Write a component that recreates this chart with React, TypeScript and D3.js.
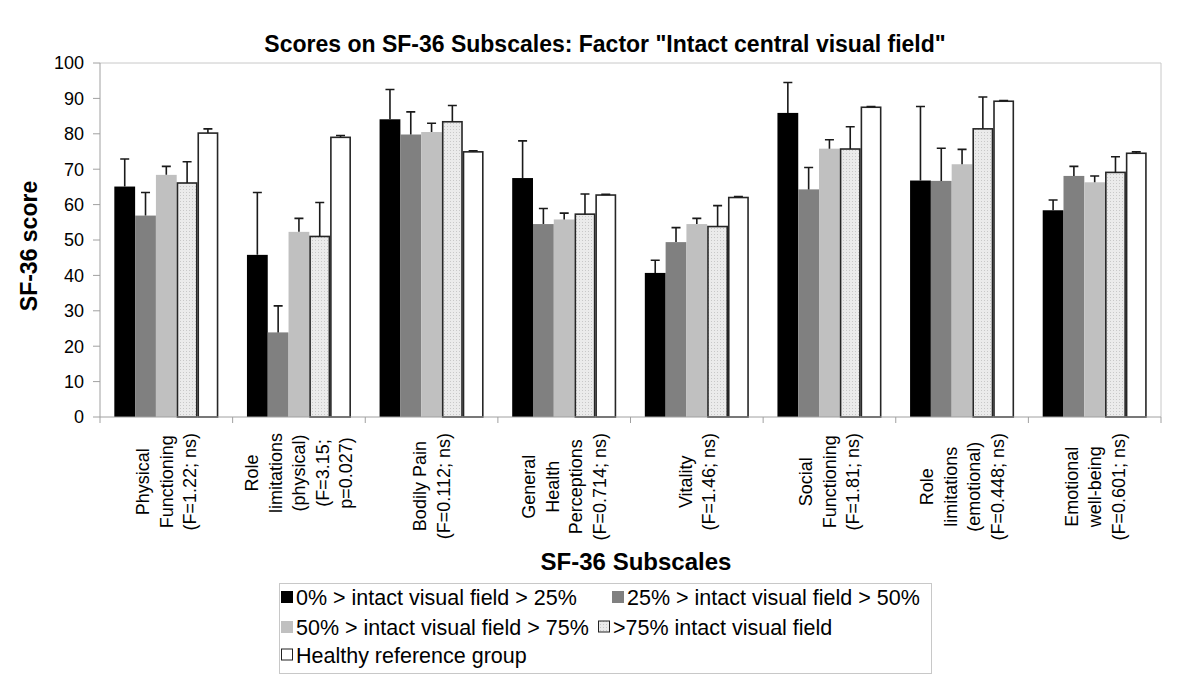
import React, { useEffect, useRef } from "react";
import * as d3 from "d3";

const categories: string[][] = [
  ["Physical", "Functioning", "(F=1.22; ns)"],
  ["Role", "limitations", "(physical)", "(F=3.15;", "p=0.027)"],
  ["Bodily Pain", "(F=0.112; ns)"],
  ["General", "Health", "Perceptions", "(F=0.714; ns)"],
  ["Vitality", "(F=1.46; ns)"],
  ["Social", "Functioning", "(F=1.81; ns)"],
  ["Role", "limitations", "(emotional)", "(F=0.448; ns)"],
  ["Emotional", "well-being", "(F=0.601; ns)"],
];

const seriesNames = [
  "0% > intact visual field > 25%",
  "25% > intact visual field > 50%",
  "50% > intact visual field > 75%",
  ">75% intact visual field",
  "Healthy reference group",
];

const means0 = [65.1, 45.8, 84.1, 67.5, 40.7, 85.9, 66.8, 58.4];
const means1 = [56.9, 23.9, 79.8, 54.5, 49.4, 64.3, 66.7, 68.1];
const means2 = [68.4, 52.3, 80.5, 55.8, 54.5, 75.8, 71.4, 66.3];
const means3 = [66.1, 51.0, 83.4, 57.3, 53.8, 75.7, 81.4, 69.1];
const means4 = [80.2, 79.0, 74.9, 62.7, 62.0, 87.5, 89.2, 74.5];

const errs0 = [7.8, 17.6, 8.4, 10.5, 3.6, 8.6, 20.9, 2.9];
const errs1 = [6.5, 7.5, 6.4, 4.4, 4.1, 6.2, 9.2, 2.7];
const errs2 = [2.4, 3.8, 2.5, 1.8, 1.6, 2.5, 4.2, 1.8];
const errs3 = [6.0, 9.6, 4.6, 5.7, 5.9, 6.3, 9.0, 4.4];
const errs4 = [1.2, 0.5, 0.3, 0.2, 0.3, 0.2, 0.2, 0.4];

const yTicks = [0, 10, 20, 30, 40, 50, 60, 70, 80, 90, 100];

const title = 'Scores on SF-36 Subscales: Factor "Intact central visual field"';
const yTitle = "SF-36 score";
const xTitle = "SF-36 Subscales";

const FONT = "'Liberation Sans', Arial, Helvetica, sans-serif";

export default function App() {
  const ref = useRef<SVGSVGElement>(null);

  useEffect(() => {
    const svg = d3.select(ref.current);
    svg.selectAll("*").remove();

    const W = 1200, H = 696;
    const left = 100, right = 1161, top = 63, bottom = 417;

    const means = [means0, means1, means2, means3, means4];
    const errs = [errs0, errs1, errs2, errs3, errs4];
    const fills = ["#000000", "#808080", "#c0c0c0", "url(#dots)", "#ffffff"];
    const strokes = ["none", "none", "none", "#262626", "#262626"];

    const defs = svg.append("defs");
    const pat = defs.append("pattern").attr("id", "dots").attr("patternUnits", "userSpaceOnUse")
      .attr("width", 3).attr("height", 3);
    pat.append("rect").attr("width", 3).attr("height", 3).attr("fill", "#ebebeb");
    pat.append("rect").attr("x", 0).attr("y", 0).attr("width", 1).attr("height", 1).attr("fill", "#c8c8c8");

    svg.append("rect").attr("width", W).attr("height", H).attr("fill", "#fff");

    const idx = categories.map((_, i) => i);
    const x0 = d3.scaleBand<number>().domain(idx).range([left, right]).paddingInner(0.216).paddingOuter(0.108);
    const x1 = d3.scaleBand<number>().domain([0, 1, 2, 3, 4]).range([0, x0.bandwidth()]);
    const y = d3.scaleLinear().domain([0, 100]).range([bottom, top]);

    // plot area frame (top/right)
    svg.append("path").attr("d", `M${left},${top}H${right}V${bottom}`).attr("fill", "none")
      .attr("stroke", "#c8c8c8").attr("stroke-width", 1);

    // bars
    means.forEach((arr, s) => {
      const g = svg.append("g");
      g.selectAll("rect").data(arr).join("rect")
        .attr("x", (_, i) => (x0(i) as number) + (x1(s) as number) + (strokes[s] !== "none" ? 0.75 : 0))
        .attr("y", (d) => y(d))
        .attr("width", x1.bandwidth() - (strokes[s] !== "none" ? 1.5 : 0))
        .attr("height", (d) => bottom - y(d))
        .attr("fill", fills[s])
        .attr("stroke", strokes[s])
        .attr("stroke-width", 1.6);
    });

    // error bars
    means.forEach((arr, s) => {
      const g = svg.append("g").attr("stroke", "#1a1a1a").attr("stroke-width", 1.6).attr("fill", "none");
      arr.forEach((m, i) => {
        const cx = (x0(i) as number) + (x1(s) as number) + x1.bandwidth() / 2;
        const yt = y(m + errs[s][i]);
        g.append("path").attr("d", `M${cx},${y(m)}V${yt}M${cx - 4.5},${yt}H${cx + 4.5}`);
      });
    });

    // axes
    const axisColor = "#a0a0a0";
    svg.append("line").attr("x1", left).attr("x2", left).attr("y1", top).attr("y2", bottom)
      .attr("stroke", axisColor);
    svg.append("line").attr("x1", left).attr("x2", right).attr("y1", bottom).attr("y2", bottom)
      .attr("stroke", axisColor);
    const step = x0.step();
    idx.concat([categories.length]).forEach((i) => {
      const xx = left + i * step;
      svg.append("line").attr("x1", xx).attr("x2", xx).attr("y1", bottom).attr("y2", bottom + 6)
        .attr("stroke", axisColor);
    });
    yTicks.forEach((t) => {
      svg.append("line").attr("x1", left - 7).attr("x2", left).attr("y1", y(t)).attr("y2", y(t))
        .attr("stroke", axisColor);
      svg.append("text").attr("x", 84).attr("y", y(t)).attr("dy", "0.36em").attr("text-anchor", "end")
        .attr("font-family", FONT).attr("font-size", 18).attr("fill", "#000").text(String(t));
    });

    // category labels (rotated)
    const lineH = 23.5;
    categories.forEach((lines, i) => {
      const cx = (x0(i) as number) + x0.bandwidth() / 2;
      const g = svg.append("g");
      const texts = lines.map((ln) =>
        g.append("text").attr("font-family", FONT).attr("font-size", 18).attr("fill", "#000")
          .attr("text-anchor", "middle").text(ln)
      );
      const maxLen = d3.max(texts.map((t) => (t.node() as SVGTextElement).getComputedTextLength())) || 0;
      const cy = 433 + maxLen / 2;
      const n = lines.length;
      texts.forEach((t, k) => {
        const lx = cx + (k - (n - 1) / 2) * lineH + 6.5;
        t.attr("transform", `translate(${lx},${cy}) rotate(-90)`);
      });
    });

    // titles
    svg.append("text").attr("x", 605).attr("y", 52).attr("text-anchor", "middle")
      .attr("font-family", FONT).attr("font-weight", "bold").attr("font-size", 23).text(title);
    svg.append("text").attr("transform", `translate(37,246) rotate(-90)`).attr("text-anchor", "middle")
      .attr("font-family", FONT).attr("font-weight", "bold").attr("font-size", 23).text(yTitle);
    svg.append("text").attr("x", 636).attr("y", 570).attr("text-anchor", "middle")
      .attr("font-family", FONT).attr("font-weight", "bold").attr("font-size", 24).text(xTitle);

    // legend
    svg.append("rect").attr("x", 279.5).attr("y", 583.5).attr("width", 652).attr("height", 90)
      .attr("fill", "#fff").attr("stroke", "#c8c8c8");
    const legendPos = [
      [281, 597], [612, 597], [281, 627], [598, 627], [281, 655],
    ];
    seriesNames.forEach((name, s) => {
      const [lx, ly] = legendPos[s];
      svg.append("rect").attr("x", lx + (strokes[s] !== "none" ? 0.5 : 0)).attr("y", ly - 6)
        .attr("width", strokes[s] !== "none" ? 11 : 12).attr("height", strokes[s] !== "none" ? 11 : 12)
        .attr("fill", fills[s]).attr("stroke", strokes[s] === "none" ? "none" : "#222").attr("stroke-width", 1);
      svg.append("text").attr("x", lx + 15).attr("y", ly).attr("dy", "0.36em")
        .attr("font-family", FONT).attr("font-size", 21.5).attr("fill", "#000").text(name);
    });
  }, []);

  return (
    <svg ref={ref} width={1200} height={696}
      style={{ position: "absolute", left: 0, top: 0, display: "block" }} />
  );
}
